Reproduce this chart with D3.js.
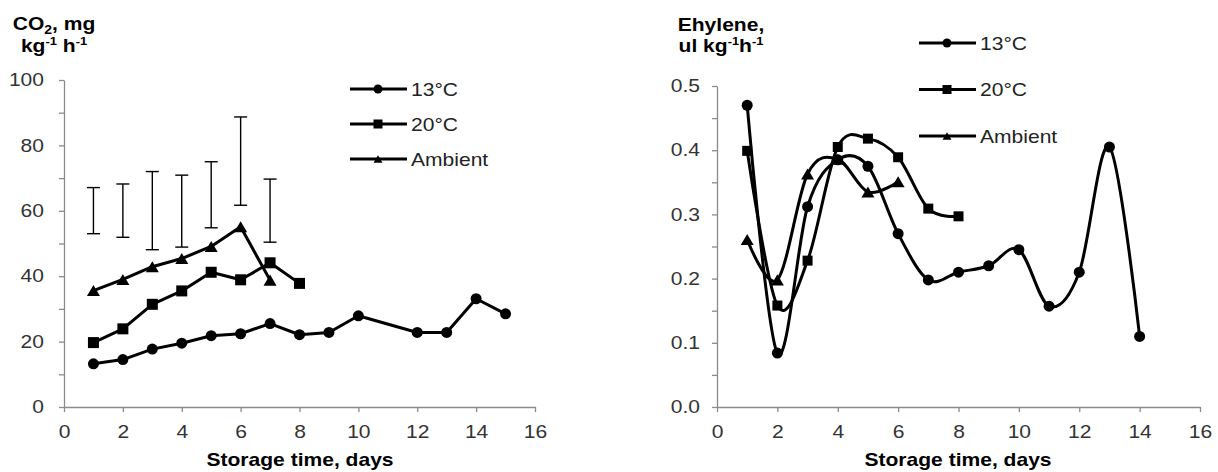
<!DOCTYPE html>
<html>
<head>
<meta charset="utf-8">
<script src="https://cdn.jsdelivr.net/npm/d3@7"></script>
<style>
body { margin: 0; background: #fff; }
svg { display: block; font-family: "Liberation Sans", Arial, sans-serif; }
.axis path, .axis line { stroke: #8a8a8a; stroke-width: 1.3; }
.axis text { fill: #333; font-size: 18px; }
.title { font-weight: bold; font-size: 18px; fill: #000; }
.leg { font-size: 18px; fill: #222; }
</style>
</head>
<body>
<svg id="chart" width="1218" height="472"></svg>
<script>
// CO2 production, mg kg-1 h-1
var co2Days13 = [1, 2, 3, 4, 5, 6, 7, 8, 9, 10, 12, 13, 14, 15];
var co2Vals13 = [13.2, 14.5, 17.7, 19.5, 21.8, 22.4, 25.5, 22.1, 22.8, 27.9, 22.8, 22.8, 33.1, 28.5];
var co2Days20 = [1, 2, 3, 4, 5, 6, 7, 8];
var co2Vals20 = [19.7, 23.9, 31.4, 35.5, 41.2, 38.9, 44.1, 37.8];
var co2DaysAmb = [1, 2, 3, 4, 5, 6, 7];
var co2ValsAmb = [35.6, 39.0, 42.9, 45.4, 49.1, 55.1, 38.8];
// the floating error bars
var errDays = [1, 2, 3, 4, 5, 6, 7];
var errLow = [53.0, 51.9, 48.1, 48.9, 54.8, 61.7, 50.4];
var errHigh = [67.1, 68.2, 72.0, 70.9, 75.0, 88.7, 69.7];

// Ethylene, ul kg-1 h-1
var ethDays13 = [1, 2, 3, 4, 5, 6, 7, 8, 9, 10, 11, 12, 13, 14];
var ethVals13 = [0.47, 0.084, 0.312, 0.385, 0.375, 0.27, 0.198, 0.21, 0.22, 0.245, 0.157, 0.21, 0.405, 0.11];
var ethDays20 = [1, 2, 3, 4, 5, 6, 7, 8];
var ethVals20 = [0.399, 0.158, 0.228, 0.405, 0.418, 0.389, 0.309, 0.297];
var ethDaysAmb = [1, 2, 3, 4, 5, 6];
var ethValsAmb = [0.261, 0.198, 0.363, 0.386, 0.335, 0.351];

var seriesNames = ["13°C", "20°C", "Ambient"];
var xTicks = [0, 2, 4, 6, 8, 10, 12, 14, 16];
var co2Ticks = [0, 10, 20, 30, 40, 50, 60, 70, 80, 90, 100];
var ethTicks = [0, 0.05, 0.1, 0.15, 0.2, 0.25, 0.3, 0.35, 0.4, 0.45, 0.5];

var SX = 1.17; // text in the picture is a bit wide

var svg = d3.select("#chart");

function stretch(sel) {
    sel.each(function() {
        var t = d3.select(this);
        var x = +t.attr("x") || 0;
        t.attr("x", x / SX).attr("transform", "scale(" + SX + ",1)");
    });
}

function marker(g, shape, cx, cy, s) {
    if (shape == "circle") {
        g.append("circle").attr("cx", cx).attr("cy", cy).attr("r", s / 2).attr("fill", "#000");
    } else if (shape == "square") {
        g.append("rect").attr("x", cx - s / 2).attr("y", cy - s / 2)
            .attr("width", s).attr("height", s).attr("fill", "#000");
    } else {
        var h = s * 0.85;
        g.append("path")
            .attr("d", "M" + (cx - s / 2) + "," + (cy + h / 2) + "L" + cx + "," + (cy - h / 2) +
                "L" + (cx + s / 2) + "," + (cy + h / 2) + "Z")
            .attr("fill", "#000");
    }
}

function drawSeries(g, x, y, days, vals, shape, curve, size) {
    var pts = days.map(function(d, i) { return [d, vals[i]]; });
    var line = d3.line()
        .x(function(d) { return x(d[0]); })
        .y(function(d) { return y(d[1]); })
        .curve(curve);
    g.append("path").datum(pts)
        .attr("d", line)
        .attr("fill", "none")
        .attr("stroke", "#000")
        .attr("stroke-width", 3)
        .attr("stroke-linejoin", "round");
    pts.forEach(function(p) { marker(g, shape, x(p[0]), y(p[1]), size); });
}

function axes(x, y, y0, left, fmt, padY) {
    var gx = svg.append("g").attr("class", "axis")
        .attr("transform", "translate(0," + y0 + ")")
        .call(d3.axisBottom(x).tickValues(xTicks).tickSize(5).tickSizeOuter(0).tickPadding(13));
    var gy = svg.append("g").attr("class", "axis")
        .attr("transform", "translate(" + left + ",0)")
        .call(d3.axisLeft(y).tickValues(y.ticksUsed).tickSize(5).tickSizeOuter(0)
            .tickPadding(padY).tickFormat(fmt));
    stretch(gx.selectAll("text"));
    stretch(gy.selectAll("text"));
}

function legend(lx, ly, gap, size) {
    var shapes = ["circle", "square", "triangle"];
    seriesNames.forEach(function(name, i) {
        var cy = ly + i * gap;
        var g = svg.append("g");
        g.append("line").attr("x1", lx).attr("x2", lx + 57).attr("y1", cy).attr("y2", cy)
            .attr("stroke", "#000").attr("stroke-width", 3);
        marker(g, shapes[i], lx + 28, cy, size);
        var t = g.append("g").attr("transform", "translate(" + (lx + 61) + "," + (cy + 6.5) + ")")
            .append("text").attr("class", "leg").text(name);
        stretch(t);
    });
}

function xTitle(cx) {
    var t = svg.append("g").attr("transform", "translate(" + cx + ",466)")
        .append("text").attr("class", "title").attr("text-anchor", "middle")
        .text("Storage time, days");
    stretch(t);
}

// ---------- left chart: CO2 ----------
var xL = d3.scaleLinear().domain([0, 16]).range([64, 535]);
var yL = d3.scaleLinear().domain([0, 100]).range([407, 80]);
yL.ticksUsed = co2Ticks;
axes(xL, yL, 407, 64, function(d) { return d % 20 === 0 ? d : ""; }, 15);

var eb = svg.append("g").attr("stroke", "#000").attr("stroke-width", 1.4);
errDays.forEach(function(d, i) {
    var cx = xL(d);
    eb.append("line").attr("x1", cx).attr("x2", cx).attr("y1", yL(errLow[i])).attr("y2", yL(errHigh[i]));
    eb.append("line").attr("x1", cx - 6.5).attr("x2", cx + 6.5).attr("y1", yL(errLow[i])).attr("y2", yL(errLow[i]));
    eb.append("line").attr("x1", cx - 6.5).attr("x2", cx + 6.5).attr("y1", yL(errHigh[i])).attr("y2", yL(errHigh[i]));
});

var gL = svg.append("g");
drawSeries(gL, xL, yL, co2Days13, co2Vals13, "circle", d3.curveLinear, 11);
drawSeries(gL, xL, yL, co2Days20, co2Vals20, "square", d3.curveLinear, 11);
drawSeries(gL, xL, yL, co2DaysAmb, co2ValsAmb, "triangle", d3.curveLinear, 13);

legend(350, 89, 35, 9);
xTitle(300);

var tL1 = svg.append("g").attr("transform", "translate(54,30)")
    .append("text").attr("class", "title").attr("text-anchor", "middle");
tL1.append("tspan").text("CO");
tL1.append("tspan").attr("font-size", 12).attr("dy", 4).text("2");
tL1.append("tspan").attr("dy", -4).text(", mg");
stretch(tL1);
var tL2 = svg.append("g").attr("transform", "translate(54,52)")
    .append("text").attr("class", "title").attr("text-anchor", "middle");
tL2.append("tspan").text("kg");
tL2.append("tspan").attr("font-size", 11).attr("dy", -7).text("-1");
tL2.append("tspan").attr("dy", 7).text(" h");
tL2.append("tspan").attr("font-size", 11).attr("dy", -7).text("-1");
stretch(tL2);

// ---------- right chart: ethylene ----------
var xR = d3.scaleLinear().domain([0, 16]).range([717, 1200]);
var yR = d3.scaleLinear().domain([0, 0.5]).range([407, 86]);
yR.ticksUsed = ethTicks;
axes(xR, yR, 407, 717, function(d, i) { return i % 2 === 0 ? d3.format(".1f")(d) : ""; }, 12);

var gR = svg.append("g");
var smooth = d3.curveCardinal.tension(0);
drawSeries(gR, xR, yR, ethDays13, ethVals13, "circle", smooth, 11);
drawSeries(gR, xR, yR, ethDays20, ethVals20, "square", smooth, 10);
drawSeries(gR, xR, yR, ethDaysAmb, ethValsAmb, "triangle", smooth, 13);

legend(919, 43, 46.5, 9);
xTitle(958);

var tR1 = svg.append("g").attr("transform", "translate(721,31)")
    .append("text").attr("class", "title").attr("text-anchor", "middle").text("Ehylene,");
stretch(tR1);
var tR2 = svg.append("g").attr("transform", "translate(721,52)")
    .append("text").attr("class", "title").attr("text-anchor", "middle");
tR2.append("tspan").text("ul kg");
tR2.append("tspan").attr("font-size", 11).attr("dy", -7).text("-1");
tR2.append("tspan").attr("dy", 7).text("h");
tR2.append("tspan").attr("font-size", 11).attr("dy", -7).text("-1");
stretch(tR2);
</script>
</body>
</html>
